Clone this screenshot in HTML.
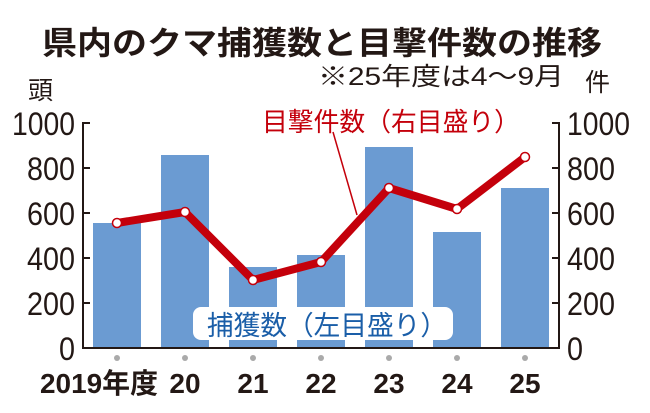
<!DOCTYPE html>
<html><head><meta charset="utf-8"><style>
body{margin:0;background:#fff}
svg text{font-family:"Liberation Sans","Noto Sans CJK JP",sans-serif}
</style></head><body>
<svg width="650" height="408" xmlns="http://www.w3.org/2000/svg">
<text x="42" y="54" font-size="32" font-weight="bold" fill="#231815" textLength="560" lengthAdjust="spacingAndGlyphs">県内のクマ捕獲数と目撃件数の推移</text>
<text x="318" y="85" font-size="25" fill="#231815" textLength="246" lengthAdjust="spacingAndGlyphs">※25年度は4〜9月</text>
<text x="585" y="91" font-size="25" fill="#231815">件</text>
<text x="28" y="99" font-size="25" fill="#231815">頭</text>
<g fill="#6b9bd2">
<rect x="93" y="223" width="48" height="125"/>
<rect x="161" y="155" width="48" height="193"/>
<rect x="229" y="267" width="48" height="81"/>
<rect x="297" y="255" width="48" height="93"/>
<rect x="365" y="147" width="48" height="201"/>
<rect x="433" y="232" width="48" height="116"/>
<rect x="501" y="188" width="48" height="160"/>
</g>
<g stroke="#231815" stroke-width="2" fill="none">
<path d="M90 123H83V348H559V123H552"/>
<path d="M83 168H90M83 213H90M83 258H90M83 303H90"/>
<path d="M559 168H552M559 213H552M559 258H552M559 303H552"/>
</g>
<g font-size="32" fill="#231815">
<text x="12" y="135" textLength="63" lengthAdjust="spacingAndGlyphs">1000</text>
<text x="27" y="180" textLength="48" lengthAdjust="spacingAndGlyphs">800</text>
<text x="27" y="225" textLength="48" lengthAdjust="spacingAndGlyphs">600</text>
<text x="27" y="270" textLength="48" lengthAdjust="spacingAndGlyphs">400</text>
<text x="27" y="315" textLength="48" lengthAdjust="spacingAndGlyphs">200</text>
<text x="59" y="360" textLength="16" lengthAdjust="spacingAndGlyphs">0</text>
</g>
<g font-size="32" fill="#231815">
<text x="567" y="135" textLength="63" lengthAdjust="spacingAndGlyphs">1000</text>
<text x="567" y="180" textLength="48" lengthAdjust="spacingAndGlyphs">800</text>
<text x="567" y="225" textLength="48" lengthAdjust="spacingAndGlyphs">600</text>
<text x="567" y="270" textLength="48" lengthAdjust="spacingAndGlyphs">400</text>
<text x="567" y="315" textLength="48" lengthAdjust="spacingAndGlyphs">200</text>
<text x="567" y="360" textLength="16" lengthAdjust="spacingAndGlyphs">0</text>
</g>
<g fill="#aaa">
<circle cx="117" cy="358" r="3"/><circle cx="185" cy="358" r="3"/><circle cx="253" cy="358" r="3"/>
<circle cx="321" cy="358" r="3"/><circle cx="389" cy="358" r="3"/><circle cx="457" cy="358" r="3"/><circle cx="525" cy="358" r="3"/>
</g>
<g font-size="28" font-weight="bold" fill="#231815" text-anchor="middle">
<text x="99" y="393" textLength="118" lengthAdjust="spacingAndGlyphs">2019年度</text><text x="185" y="393">20</text><text x="253" y="393">21</text>
<text x="321" y="393">22</text><text x="389" y="393">23</text><text x="457" y="393">24</text><text x="525" y="393">25</text>
</g>
<rect x="193" y="307" width="260" height="33" rx="8" fill="#fff"/>
<text x="207" y="335" font-size="27" fill="#1a5ea8" textLength="240" lengthAdjust="spacingAndGlyphs">捕獲数（左目盛り）</text>
<line x1="333" y1="132" x2="357" y2="215" stroke="#c4000b" stroke-width="1.5"/>
<text x="262" y="131" font-size="26" fill="#c4000b" textLength="258" lengthAdjust="spacingAndGlyphs">目撃件数（右目盛り）</text>
<polyline points="117,223 185,212 253,280 321,262 389,188 457,209 525,157" fill="none" stroke="#c4000b" stroke-width="8" stroke-linejoin="round"/>
<g fill="#fff" stroke="#c4000b" stroke-width="1.5">
<circle cx="117" cy="223" r="4.5"/><circle cx="185" cy="212" r="4.5"/><circle cx="253" cy="280" r="4.5"/>
<circle cx="321" cy="262" r="4.5"/><circle cx="389" cy="188" r="4.5"/><circle cx="457" cy="209" r="4.5"/><circle cx="525" cy="157" r="4.5"/>
</g>
</svg>
</body></html>
